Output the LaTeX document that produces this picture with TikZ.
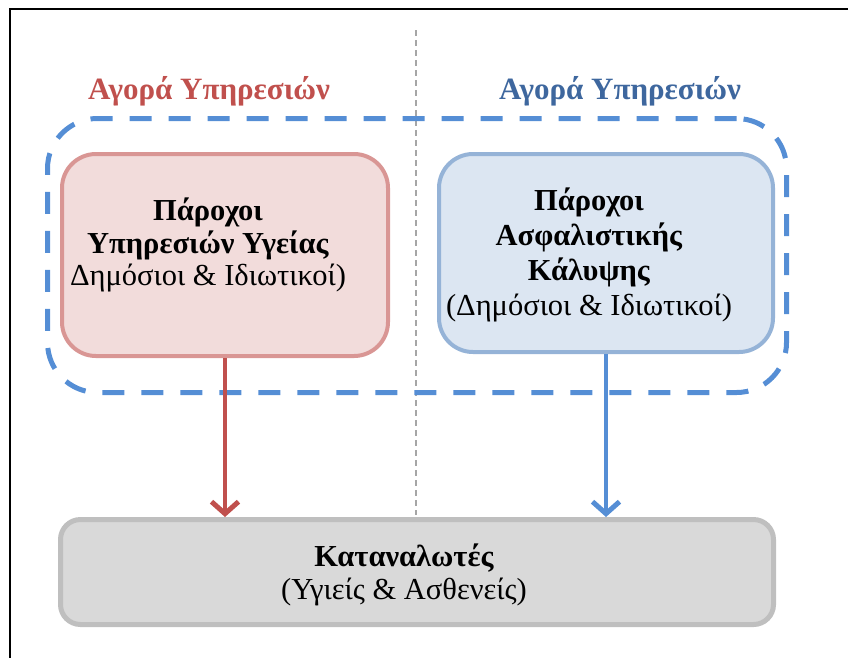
\documentclass[tikz,border=0pt]{standalone}
\usepackage{fontspec}
\setmainfont{Liberation Serif}
\usetikzlibrary{arrows.meta}
\definecolor{rtitle}{HTML}{C0504D}
\definecolor{btitle}{HTML}{3E679E}
\definecolor{rfill}{HTML}{F2DCDB}
\definecolor{rdraw}{HTML}{D99694}
\definecolor{bfill}{HTML}{DCE6F2}
\definecolor{bdraw}{HTML}{95B3D7}
\definecolor{gfill}{HTML}{D9D9D9}
\definecolor{gdraw}{HTML}{BFBFBF}
\definecolor{dashblue}{HTML}{558ED5}
\definecolor{redarr}{HTML}{C0504D}
\definecolor{sepgray}{HTML}{A6A6A6}
\tikzset{
  box/.style={rectangle, rounded corners=34pt, line width=4pt, inner sep=0pt},
  market/.style={rectangle, rounded corners=50pt, draw=dashblue, line width=5pt, dash pattern=on 22pt off 17pt, inner sep=0pt},
  title/.style={font=\fontsize{31}{34}\selectfont\bfseries, inner sep=0pt},
  bodytext/.style={align=center, inner sep=0pt},
  arr/.style={line width=4pt, -{Straight Barb[length=12pt, width=27pt, line width=5pt]}},
  sep/.style={draw=sepgray, line width=1.3pt, dash pattern=on 6pt off 4pt},
}
\begin{document}
\begin{tikzpicture}[x=1pt, y=-1pt]
\useasboundingbox (0,0) rectangle (848,657);
% frame
\coordinate (fbl) at (10,660);
\coordinate (ftl) at (10,9);
\coordinate (ftr) at (850,9);
\draw[line width=2pt] (fbl) -- (ftl) -- (ftr);
% separator
\coordinate (septop) at (416,30);
\coordinate (sepbot) at (416,515);
\draw[sep] (septop) -- (sepbot);
% market dashed box
\node[market, minimum width=739pt, minimum height=274pt] (mkt) at (417,255.5) {};
% titles
\node[title, text=rtitle] (t1) at (209,91) {Αγορά Υπηρεσιών};
\node[title, text=btitle] (t2) at (620,91) {Αγορά Υπηρεσιών};
% boxes
\node[box, fill=rfill, draw=rdraw, minimum width=326pt, minimum height=202pt] (redbox) at (225,255) {};
\node[box, fill=bfill, draw=bdraw, minimum width=334pt, minimum height=198pt] (bluebox) at (606,253) {};
\node[box, rounded corners=20pt, line width=5pt, fill=gfill, draw=gdraw, minimum width=713pt, minimum height=105pt] (greybox) at (417,572) {};
% texts
\node[bodytext, font=\fontsize{30.5}{32.5}\selectfont] (rtext) at (208,245) {\textbf{Πάροχοι}\\\textbf{Υπηρεσιών Υγείας}\\Δημόσιοι \& Ιδιωτικοί)};
\node[bodytext, font=\fontsize{30.5}{35}\selectfont] (btext) at (589,255) {\textbf{Πάροχοι}\\\textbf{Ασφαλιστικής}\\\textbf{Κάλυψης}\\(Δημόσιοι \& Ιδιωτικοί)};
\node[bodytext, font=\fontsize{30.5}{33}\selectfont] (gtext) at (404,575) {\textbf{Καταναλωτές}\\(Υγιείς \& Ασθενείς)};
% arrows
\draw[arr, draw=redarr] (redbox.south) -- (redbox.south |- greybox.north);
\draw[arr, draw=dashblue] (bluebox.south) -- (bluebox.south |- greybox.north);
\end{tikzpicture}
\end{document}
